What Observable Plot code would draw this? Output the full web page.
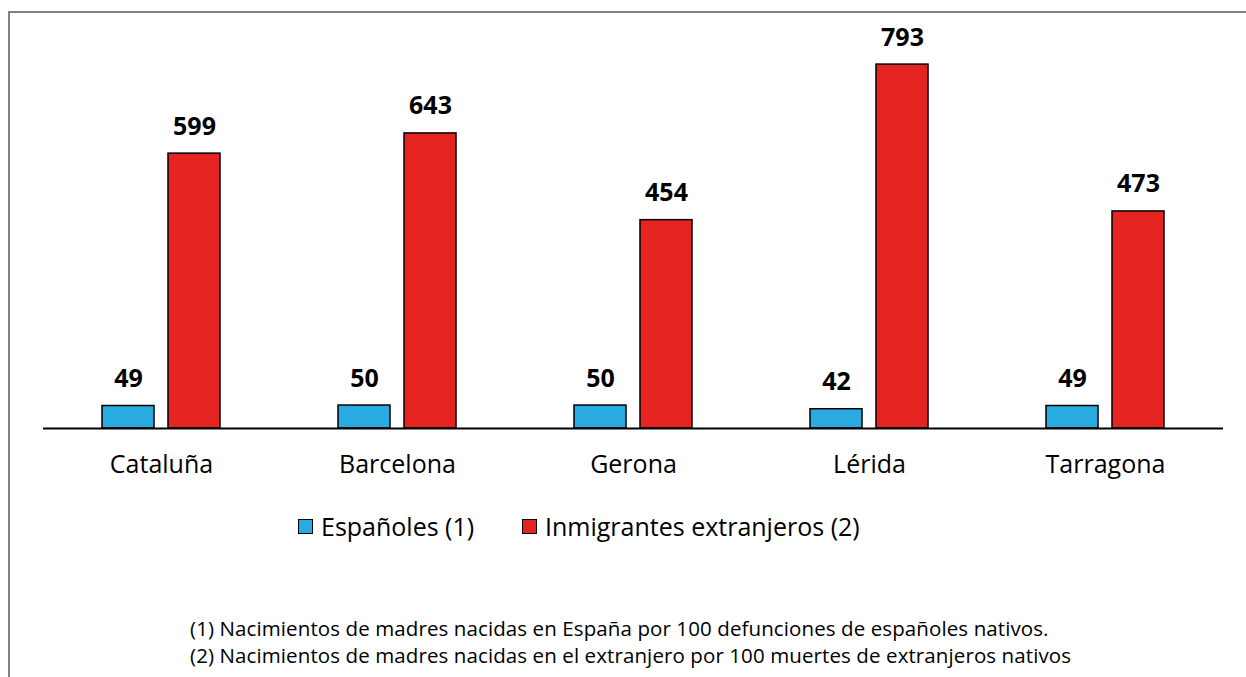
<!DOCTYPE html>
<html>
<head>
<meta charset="utf-8">
<script src="https://cdn.jsdelivr.net/npm/d3@7"></script>
<script src="https://cdn.jsdelivr.net/npm/@observablehq/plot@0.6"></script>
<style>
  html, body { margin: 0; padding: 0; background: #fff; overflow: hidden; }
  body { width: 1246px; height: 677px; position: relative; font-family: "Open Sans", sans-serif; }
  #frame { position: absolute; left: 8px; top: 11px; width: 1400px; height: 800px; border: 2px solid #808080; box-sizing: border-box; }
  #chart { position: absolute; left: 0; top: 0; }
  #legend { position: absolute; top: 512px; left: 0; width: 1246px; height: 30px; font-size: 25px; color: #000; }
  .sw { position: absolute; top: 7px; width: 15px; height: 15px; border: 1px solid #000; box-sizing: border-box; }
  .lt { position: absolute; top: -3px; white-space: nowrap; }
  .note { position: absolute; left: 190px; font-size: 20.5px; white-space: nowrap; color: #000; letter-spacing: 0.1px; }
</style>
</head>
<body>
<div id="frame"></div>
<div id="chart"></div>
<div id="legend"></div>
<div id="notes"></div>
<script>
const regions = ["Cataluña", "Barcelona", "Gerona", "Lérida", "Tarragona"];
const seriesNames = ["Españoles (1)", "Inmigrantes extranjeros (2)"];
const espanoles = [49, 50, 50, 42, 49];
const inmigrantes = [599, 643, 454, 793, 473];
const seriesColors = ["#29abe2", "#e52421"];
const notes = [
  "(1) Nacimientos de madres nacidas en España por 100 defunciones de españoles nativos.",
  "(2) Nacimientos de madres nacidas en el extranjero por 100 muertes de extranjeros nativos"
];

const data = [];
regions.forEach((r, i) => {
  data.push({region: r, serie: seriesNames[0], value: espanoles[i]});
  data.push({region: r, serie: seriesNames[1], value: inmigrantes[i]});
});

const chart = Plot.plot({
  width: 1246,
  height: 490,
  marginLeft: 43,
  marginRight: 23,
  marginTop: 15,
  marginBottom: 62,
  style: {fontFamily: "'Open Sans', sans-serif", background: "transparent", overflow: "visible"},
  fx: {domain: regions, padding: 0},
  x: {domain: seriesNames, paddingInner: 0.209, paddingOuter: 0.866, axis: null},
  y: {domain: [0, 900], axis: null},
  color: {domain: seriesNames, range: seriesColors},
  marks: [
    Plot.barY(data, {fx: "region", x: "serie", y: "value", fill: "serie", stroke: "#000", strokeWidth: 1.5}),
    Plot.text(data, {fx: "region", x: "serie", y: "value", text: d => String(d.value), lineAnchor: "bottom", dy: -19, fontSize: 25, fontWeight: "bold", fill: "#000"}),
    Plot.ruleY([0], {stroke: "#000", strokeWidth: 2}),
    Plot.axisFx({anchor: "bottom", tickSize: 0, tickPadding: 27, fontSize: 25, label: null, fill: "#000"})
  ]
});
document.getElementById("chart").appendChild(chart);

const legend = document.getElementById("legend");
const legendPos = [[298, 321], [522, 545]];
seriesNames.forEach((s, i) => {
  const sw = document.createElement("div");
  sw.className = "sw";
  sw.style.left = legendPos[i][0] + "px";
  sw.style.background = seriesColors[i];
  legend.appendChild(sw);
  const t = document.createElement("div");
  t.className = "lt";
  t.style.left = legendPos[i][1] + "px";
  t.textContent = s;
  legend.appendChild(t);
});

const notesDiv = document.getElementById("notes");
notes.forEach((n, i) => {
  const d = document.createElement("div");
  d.className = "note";
  d.style.top = (614 + i * 27) + "px";
  d.textContent = n;
  notesDiv.appendChild(d);
});
</script>
</body>
</html>
